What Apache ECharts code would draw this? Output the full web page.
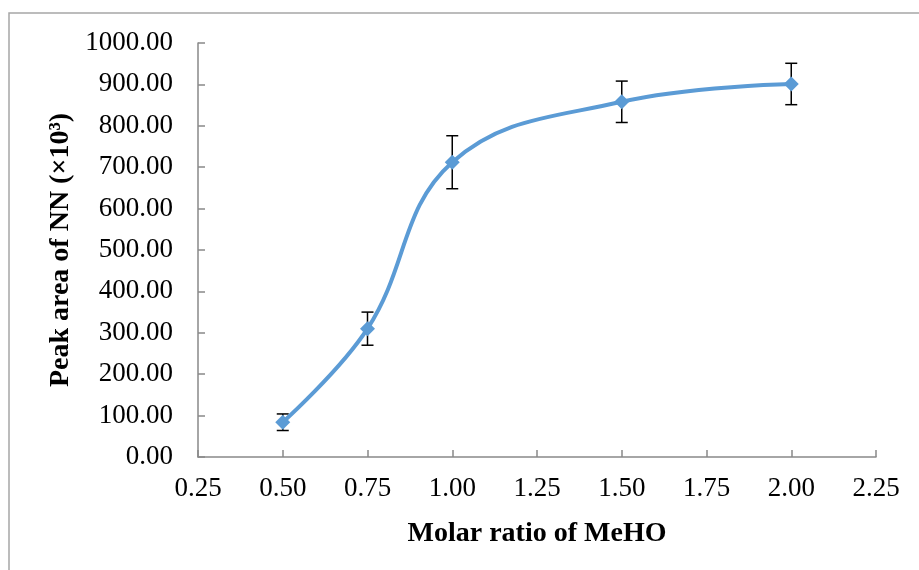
<!DOCTYPE html>
<html>
<head>
<meta charset="utf-8">
<script src="https://cdn.jsdelivr.net/npm/echarts@6/dist/echarts.min.js"></script>
<style>html,body{margin:0;padding:0;background:#fff;}#c{width:919px;height:570px;}</style>
</head>
<body>
<div id="c"></div>
<script>
const molarRatio = [0.5, 0.75, 1.0, 1.5, 2.0];
const peakArea = [84, 310, 712, 858, 901];
const errorAmount = [20, 40, 64, 50, 50];
const xTicks = { min: 0.25, max: 2.25, interval: 0.25 };
const yTicks = { min: 0, max: 1000, interval: 100 };

const lineData = molarRatio.map((x, i) => [x, peakArea[i]]);
const errData = molarRatio.map((x, i) => [x, peakArea[i] - errorAmount[i], peakArea[i] + errorAmount[i]]);

const chart = echarts.init(document.getElementById('c'), null, { renderer: 'canvas' });
const font = '"Liberation Serif", "Times New Roman", serif';
const axisGray = '#898989';

chart.setOption({
  animation: false,
  backgroundColor: '#fff',
  graphic: [{
    type: 'rect',
    shape: { x: 9, y: 13, width: 940, height: 600 },
    style: { fill: 'none', stroke: '#a6a6a6', lineWidth: 1.5 },
    silent: true
  }],
  grid: { left: 198, right: 43, top: 43, bottom: 113 },
  xAxis: {
    type: 'value',
    min: xTicks.min, max: xTicks.max, interval: xTicks.interval,
    name: 'Molar ratio of MeHO',
    nameLocation: 'middle',
    nameGap: 63,
    nameTextStyle: { fontFamily: font, fontSize: 28, fontWeight: 'bold', color: '#000' },
    axisLine: { show: true, lineStyle: { color: axisGray, width: 1.5 } },
    axisTick: { show: true, inside: true, length: 7, lineStyle: { color: axisGray, width: 1.5 } },
    axisLabel: { fontFamily: font, fontSize: 27, color: '#000', margin: 18,
      formatter: v => v.toFixed(2) },
    splitLine: { show: false }
  },
  yAxis: {
    type: 'value',
    min: yTicks.min, max: yTicks.max, interval: yTicks.interval,
    name: 'Peak area of NN (×10³)',
    nameLocation: 'middle',
    nameGap: 120,
    nameTextStyle: { fontFamily: font, fontSize: 28, fontWeight: 'bold', color: '#000' },
    axisLine: { show: true, lineStyle: { color: axisGray, width: 1.5 } },
    axisTick: { show: true, inside: true, length: 7, lineStyle: { color: axisGray, width: 1.5 } },
    axisLabel: { fontFamily: font, fontSize: 27, color: '#000', margin: 25,
      formatter: v => v.toFixed(2) },
    splitLine: { show: false }
  },
  series: [
    {
      type: 'line',
      data: lineData,
      smooth: 0.4,
      symbol: 'diamond',
      symbolSize: 15,
      lineStyle: { color: '#5B9BD5', width: 4 },
      itemStyle: { color: '#5B9BD5' },
      z: 3
    },
    {
      type: 'custom',
      data: errData,
      z: 2,
      renderItem: function (params, api) {
        const x = api.value(0);
        const lo = api.coord([x, api.value(1)]);
        const hi = api.coord([x, api.value(2)]);
        const hw = 6;
        const st = { stroke: '#000', lineWidth: 1.5 };
        return {
          type: 'group',
          children: [
            { type: 'line', shape: { x1: lo[0], y1: lo[1], x2: hi[0], y2: hi[1] }, style: st },
            { type: 'line', shape: { x1: lo[0] - hw, y1: lo[1], x2: lo[0] + hw, y2: lo[1] }, style: st },
            { type: 'line', shape: { x1: hi[0] - hw, y1: hi[1], x2: hi[0] + hw, y2: hi[1] }, style: st }
          ]
        };
      }
    }
  ]
});
</script>
</body>
</html>
